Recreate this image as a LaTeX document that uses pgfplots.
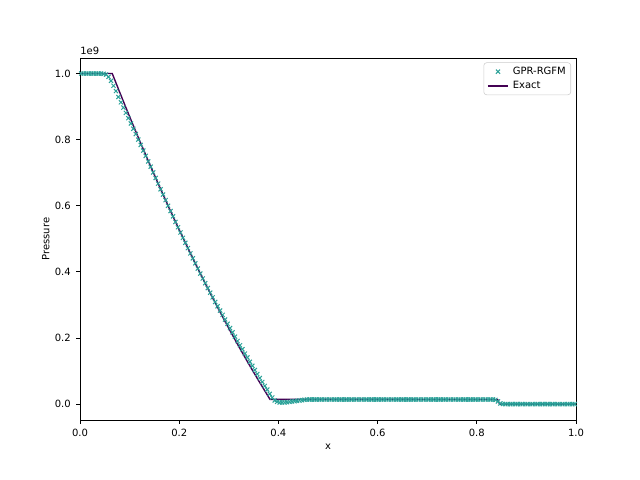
\documentclass[border=0pt]{standalone}
\usepackage{fontspec}
\setmainfont{DejaVu Sans}
\usepackage{pgfplots}
\pgfplotsset{compat=1.18}
\definecolor{mk}{HTML}{2AA198}
\definecolor{ln}{HTML}{440154}
\begin{document}
\begin{tikzpicture}
\path (0,0) rectangle (460.8pt,345.6pt);
\begin{axis}[
 at={(57.6pt,43.2pt)}, anchor=south west,
 width=357.12pt, height=260.64pt, scale only axis,
 xmin=0, xmax=1, ymin=-0.048, ymax=1.047,
 xtick={0,0.2,0.4,0.6,0.8,1.0}, ytick={0,0.2,0.4,0.6,0.8,1.0},
 /pgf/number format/fixed, /pgf/number format/fixed zerofill, /pgf/number format/precision=1, /pgf/number format/assume math mode=true,
 tick align=outside, tick pos=left, major tick length=2.6pt,
 every tick/.style={black, line width=0.58pt},
 axis line style={line width=0.58pt},
 font=\fontsize{7.2}{8.6}\selectfont,
 xticklabel style={yshift=-0.5pt},
 yticklabel style={xshift=-0.5pt},
 xlabel={x}, ylabel={Pressure},
 xlabel style={yshift=2pt},
 ylabel style={yshift=-3pt},
 legend style={at={(1,1)}, anchor=north east, xshift=-3.6pt, yshift=-3.2pt, draw=black!20, rounded corners=2pt, fill=white, fill opacity=0.8, text opacity=1, cells={anchor=west}, font=\fontsize{7.2}{8.6}\selectfont, inner xsep=2.5pt, inner ysep=2pt, row sep=1.5pt, column sep=2pt, nodes={inner xsep=1pt, inner ysep=1pt}},
 legend image code/.code={\draw[mark repeat=2,mark phase=2,#1] plot coordinates {(0pt,0pt) (7.2pt,0pt) (14.4pt,0pt)};},
 clip=true,
]
\addplot[only marks, mark=x, mark size=2.1pt, mk, mark options={line width=0.72pt}] table {
x y
0.0025 1.000
0.0075 1.000
0.0125 1.000
0.0175 1.000
0.0225 1.000
0.0275 1.000
0.0325 1.000
0.0375 1.000
0.0425 1.000
0.0475 0.999
0.0525 0.997
0.0575 0.990
0.0625 0.978
0.0675 0.963
0.0725 0.947
0.0775 0.929
0.0825 0.913
0.0875 0.897
0.0925 0.881
0.0975 0.865
0.1025 0.849
0.1075 0.833
0.1125 0.817
0.1175 0.800
0.1225 0.784
0.1275 0.767
0.1325 0.751
0.1375 0.734
0.1425 0.718
0.1475 0.701
0.1525 0.684
0.1575 0.667
0.1625 0.650
0.1675 0.634
0.1725 0.617
0.1775 0.600
0.1825 0.584
0.1875 0.568
0.1925 0.551
0.1975 0.535
0.2025 0.519
0.2075 0.503
0.2125 0.488
0.2175 0.472
0.2225 0.456
0.2275 0.441
0.2325 0.426
0.2375 0.410
0.2425 0.395
0.2475 0.380
0.2525 0.366
0.2575 0.351
0.2625 0.337
0.2675 0.323
0.2725 0.309
0.2775 0.296
0.2825 0.283
0.2875 0.270
0.2925 0.256
0.2975 0.243
0.3025 0.230
0.3075 0.217
0.3125 0.204
0.3175 0.191
0.3225 0.178
0.3275 0.166
0.3325 0.153
0.3375 0.141
0.3425 0.128
0.3475 0.116
0.3525 0.103
0.3575 0.091
0.3625 0.079
0.3675 0.067
0.3725 0.055
0.3775 0.044
0.3825 0.031
0.3875 0.020
0.3925 0.011
0.3975 0.007
0.4025 0.005
0.4075 0.005
0.4125 0.005
0.4175 0.006
0.4225 0.007
0.4275 0.008
0.4325 0.009
0.4375 0.010
0.4425 0.011
0.4475 0.012
0.4525 0.013
0.4575 0.014
0.4625 0.014
0.4675 0.014
0.4725 0.014
0.4775 0.014
0.4825 0.014
0.4875 0.014
0.4925 0.014
0.4975 0.014
0.5025 0.014
0.5075 0.014
0.5125 0.014
0.5175 0.014
0.5225 0.014
0.5275 0.014
0.5325 0.014
0.5375 0.014
0.5425 0.014
0.5475 0.014
0.5525 0.014
0.5575 0.014
0.5625 0.014
0.5675 0.014
0.5725 0.014
0.5775 0.014
0.5825 0.014
0.5875 0.014
0.5925 0.014
0.5975 0.014
0.6025 0.014
0.6075 0.014
0.6125 0.014
0.6175 0.014
0.6225 0.014
0.6275 0.014
0.6325 0.014
0.6375 0.014
0.6425 0.014
0.6475 0.014
0.6525 0.014
0.6575 0.014
0.6625 0.014
0.6675 0.014
0.6725 0.014
0.6775 0.014
0.6825 0.014
0.6875 0.014
0.6925 0.014
0.6975 0.014
0.7025 0.014
0.7075 0.014
0.7125 0.014
0.7175 0.014
0.7225 0.014
0.7275 0.014
0.7325 0.014
0.7375 0.014
0.7425 0.014
0.7475 0.014
0.7525 0.014
0.7575 0.014
0.7625 0.014
0.7675 0.014
0.7725 0.014
0.7775 0.014
0.7825 0.014
0.7875 0.014
0.7925 0.014
0.7975 0.014
0.8025 0.014
0.8075 0.014
0.8125 0.014
0.8175 0.014
0.8225 0.014
0.8275 0.014
0.8325 0.014
0.8375 0.013
0.8425 0.008
0.8475 0.002
0.8525 0.0005
0.8575 0.0001
0.8625 0.0001
0.8675 0.0001
0.8725 0.0001
0.8775 0.0001
0.8825 0.0001
0.8875 0.0001
0.8925 0.0001
0.8975 0.0001
0.9025 0.0001
0.9075 0.0001
0.9125 0.0001
0.9175 0.0001
0.9225 0.0001
0.9275 0.0001
0.9325 0.0001
0.9375 0.0001
0.9425 0.0001
0.9475 0.0001
0.9525 0.0001
0.9575 0.0001
0.9625 0.0001
0.9675 0.0001
0.9725 0.0001
0.9775 0.0001
0.9825 0.0001
0.9875 0.0001
0.9925 0.0001
0.9975 0.0001
};
\addlegendentry{GPR-RGFM}
\addplot[ln, line width=1pt, no marks] table {
x y
0 1
0.065 1
0.08 0.9435
0.10 0.8697
0.12 0.7977
0.14 0.7274
0.16 0.6589
0.18 0.5922
0.20 0.5273
0.22 0.4641
0.24 0.4027
0.26 0.3430
0.28 0.2852
0.30 0.2290
0.32 0.1747
0.34 0.1221
0.36 0.0713
0.383 0.0145
0.842 0.0140
0.846 0.0001
1.0 0.0001
};
\addlegendentry{Exact}
\end{axis}
\node[anchor=south west, inner sep=0pt, font=\fontsize{7.2}{8.6}\selectfont] at (57.6pt,306pt) {1e9};
\end{tikzpicture}
\end{document}
